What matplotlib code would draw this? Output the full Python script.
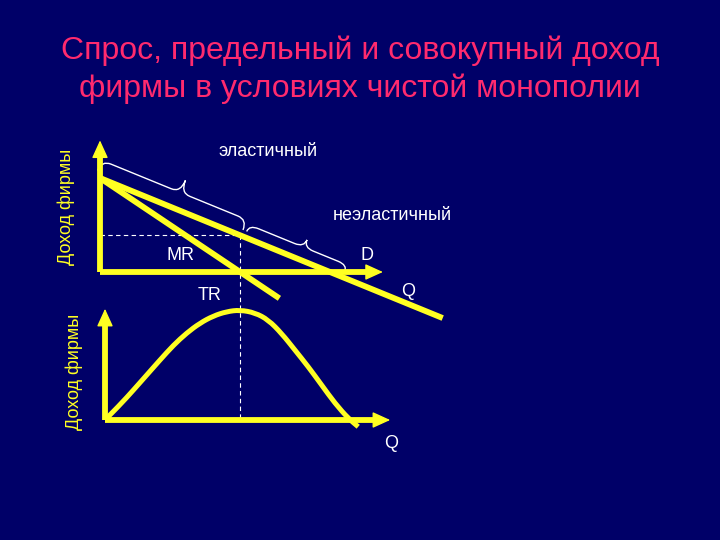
import numpy as np
import matplotlib.pyplot as plt
from matplotlib.path import Path
import matplotlib.patches as mpatches

plt.rcParams['font.family'] = ['Liberation Sans', 'DejaVu Sans']

BG = '#000068'
YEL = '#FFFF22'
TITLE_C = '#FF2A6E'

title_lines = ['Спрос, предельный и совокупный доход',
               'фирмы в условиях чистой монополии']
ylabel = 'Доход фирмы'

# верхний график: спрос D и предельный доход MR (Q, P)
d_q = [0, 14.9]
d_p = [10, -4.9]
mr_q = [0, 7.8]
mr_p = [10, -2.8]
q_mr0 = 6.1          # MR = 0
q_axis_end = 12.3
p_axis_end = 14.0

# нижний график: совокупный доход TR (точки)
tr_q = [0.0, 0.65, 1.23, 1.81, 2.39, 2.97, 3.55, 4.13, 4.71, 5.29, 5.87,
        6.52, 7.10, 7.68, 8.26, 8.84, 9.42, 10.0, 10.58, 11.01]
tr_v = [0.0, 3.8, 7.5, 11.3, 15.1, 18.8, 21.9, 24.4, 26.2, 27.3,
        27.7, 27.0, 25.2, 21.8, 17.6, 13.4, 8.8, 4.2, 0.4, -1.7]
q2_axis_end = 12.4
tr_axis_end = 28.0

fig = plt.figure(figsize=(7.2, 5.4), dpi=100)
fig.patch.set_facecolor(BG)


def make_axes(x0, y0, sx, sy):
    """оси на всю картинку: начало координат в пикселе (x0, y0)"""
    ax = fig.add_axes([0, 0, 1, 1])
    ax.set_xlim(-x0 / sx, (720 - x0) / sx)
    ax.set_ylim(-(540 - y0) / sy, y0 / sy)
    ax.axis('off')
    ax.patch.set_alpha(0)
    return ax


def arrow(ax, x1, y1, x2, y2):
    # толстая линия + отдельный наконечник
    tip = np.array(ax.transData.transform((x2, y2)))
    base = np.array(ax.transData.transform((x1, y1)))
    v = (tip - base) / np.hypot(*(tip - base))
    end = ax.transData.inverted().transform(tip - 8 * v)
    ax.plot([x1, end[0]], [y1, end[1]], color=YEL, lw=4.2,
            solid_capstyle='butt')
    start = ax.transData.inverted().transform(tip - 16 * v)
    ax.annotate('', xy=(x2, y2), xytext=start,
                arrowprops=dict(arrowstyle='-|>,head_length=1.1,head_width=0.5',
                                color=YEL, lw=1, shrinkA=0, shrinkB=0,
                                mutation_scale=10))


def brace(ax, s0, s1, sm, t0, t1, t2):
    """фигурная скобка вдоль линии D (смещения в пикселях)"""
    p0 = ax.transData.transform((d_q[0], d_p[0]))
    p1 = ax.transData.transform((d_q[1], d_p[1]))
    u = (p1 - p0) / np.hypot(*(p1 - p0))
    n = np.array([-u[1], u[0]])
    r = 10
    loc = [(s0, t0), (s0, t1), (s0 + r, t1), (sm - r, t1), (sm, t1), (sm, t2),
           (sm, t1), (sm + r, t1), (s1 - r, t1), (s1, t1), (s1, t0)]
    codes = [Path.MOVETO, Path.CURVE3, Path.CURVE3, Path.LINETO, Path.CURVE3,
             Path.CURVE3, Path.CURVE3, Path.CURVE3, Path.LINETO, Path.CURVE3,
             Path.CURVE3]
    pts = [p0 + s * u + t * n for s, t in loc]
    pts = ax.transData.inverted().transform(pts)
    ax.add_patch(mpatches.PathPatch(Path(pts, codes), fill=False,
                                    ec='white', lw=1.0))


def smooth_curve(ax, xs, ys, **kw):
    """гладкая кривая: точки — контрольные, концы — середины отрезков"""
    pts = np.column_stack([xs, ys])
    verts = [pts[0]]
    codes = [Path.MOVETO]
    for i in range(1, len(pts) - 1):
        verts += [pts[i], (pts[i] + pts[i + 1]) / 2]
        codes += [Path.CURVE3, Path.CURVE3]
    verts.append(pts[-1])
    codes.append(Path.LINETO)
    ax.add_patch(mpatches.PathPatch(Path(verts, codes), fill=False, **kw))


# ---- верхний график ----
ax1 = make_axes(100, 272, 23.0, 9.4)
p_opt = np.interp(q_mr0, d_q, d_p)
ax1.plot([0, q_mr0], [p_opt, p_opt], color='white', lw=0.8, ls=(0, (4, 3)))
# пунктир вниз до оси нижнего графика
ax1.plot([q_mr0, q_mr0], [p_opt, -(420 - 272) / 9.4],
         color='white', lw=0.8, ls=(0, (4, 3)))
arrow(ax1, 0, 0, 0, p_axis_end)
arrow(ax1, 0, 0, q_axis_end, 0)
ax1.plot(d_q, d_p, color=YEL, lw=4.2, solid_capstyle='butt')
ax1.plot(mr_q, mr_p, color=YEL, lw=4.2, solid_capstyle='butt')
brace(ax1, -5, 152, 80, 6, 17, 30)
brace(ax1, 156, 262, 215, 6, 13, 21)

# ---- нижний график ----
ax2 = make_axes(105, 420, 23.0, 112 / 28.2)
arrow(ax2, 0, 0, 0, tr_axis_end)
arrow(ax2, 0, 0, q2_axis_end, 0)
smooth_curve(ax2, tr_q, tr_v, ec=YEL, lw=3.6, capstyle='butt')

# ---- подписи ----
for i, line in enumerate(title_lines):
    fig.text(0.5, 1 - (51 + 38 * i) / 540, line, ha='center', va='center',
             color=TITLE_C, fontsize=23)

lab = dict(color='white', fontsize=13, ha='center', va='center')
fig.text(268 / 720, 1 - 152 / 540, 'эластичный', **lab)
fig.text(392 / 720, 1 - 216 / 540, 'неэластичный', **lab)
fig.text(181 / 720, 1 - 256 / 540, 'MR', **lab)
fig.text(367 / 720, 1 - 256 / 540, 'D', **lab)
fig.text(210 / 720, 1 - 296 / 540, 'TR', **lab)
fig.text(408 / 720, 1 - 291 / 540, 'Q', **lab)
fig.text(391 / 720, 1 - 444 / 540, 'Q', **lab)
fig.text(66 / 720, 1 - 207 / 540, ylabel, rotation=90, color=YEL,
         fontsize=13, ha='center', va='center')
fig.text(74 / 720, 1 - 372 / 540, ylabel, rotation=90, color=YEL,
         fontsize=13, ha='center', va='center')

fig.savefig('out.png', dpi=100, facecolor=BG)
